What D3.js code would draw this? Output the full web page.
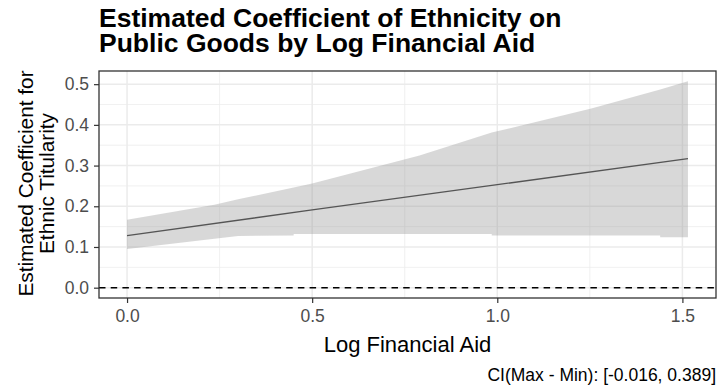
<!DOCTYPE html>
<html>
<head>
<meta charset="utf-8">
<script src="https://cdn.jsdelivr.net/npm/d3@7"></script>
<style>
  html, body { margin: 0; padding: 0; background: #fff; }
  svg { display: block; font-family: "Liberation Sans", Arial, sans-serif; }
</style>
</head>
<body>
<svg id="chart" width="720" height="388"></svg>
<script>
// Marginal effect of ethnicity across log financial aid, with its confidence band
const aidX   = [0, 0.5, 1.0, 1.515];
const effect = [0.128, 0.191, 0.253, 0.317];

// Confidence band (repeated x values mark the steps in the lower bound)
const bandX     = [0,     0.236, 0.30,  0.45,  0.45,  0.50,  0.79,  0.985, 0.985, 1.254, 1.44,  1.44,  1.515];
const bandLower = [0.095, 0.120, 0.127, 0.128, 0.132, 0.132, 0.132, 0.132, 0.128, 0.128, 0.128, 0.124, 0.124];
const bandUpper = [0.167, 0.204, 0.217, 0.246, 0.246, 0.256, 0.325, 0.381, 0.381, 0.440, 0.487, 0.487, 0.507];

const xTicks = [0, 0.5, 1.0, 1.5];
const xMinor = [0.25, 0.75, 1.25];
const yTicks = [0, 0.1, 0.2, 0.3, 0.4, 0.5];
const yMinor = [0.05, 0.15, 0.25, 0.35, 0.45];

const titleLines = ["Estimated Coefficient of Ethnicity on", "Public Goods by Log Financial Aid"];
const yTitleLines = ["Estimated Coefficient for", "Ethnic Titularity"];
const xTitle = "Log Financial Aid";
const caption = "CI(Max - Min): [-0.016, 0.389]";

const svg = d3.select("#chart");
const panel = { left: 99, right: 716, top: 71, bottom: 298 };

// Domains padded by 5% on each side of the data range
const xRange = [0, 1.515], yRange = [0, 0.507];
const xPad = (xRange[1] - xRange[0]) * 0.05, yPad = (yRange[1] - yRange[0]) * 0.05;
const x = d3.scaleLinear().domain([xRange[0] - xPad, xRange[1] + xPad]).range([panel.left, panel.right]);
const y = d3.scaleLinear().domain([yRange[0] - yPad, yRange[1] + yPad]).range([panel.bottom, panel.top]);

const grid = svg.append("g");
grid.selectAll("line.ymin").data(yMinor).join("line")
  .attr("x1", panel.left).attr("x2", panel.right)
  .attr("y1", d => y(d)).attr("y2", d => y(d))
  .attr("stroke", "#ececec").attr("stroke-width", 0.8);
grid.selectAll("line.xmin").data(xMinor).join("line")
  .attr("y1", panel.top).attr("y2", panel.bottom)
  .attr("x1", d => x(d)).attr("x2", d => x(d))
  .attr("stroke", "#ececec").attr("stroke-width", 0.8);
grid.selectAll("line.ymaj").data(yTicks).join("line")
  .attr("x1", panel.left).attr("x2", panel.right)
  .attr("y1", d => y(d)).attr("y2", d => y(d))
  .attr("stroke", "#ebebeb").attr("stroke-width", 1.5);
grid.selectAll("line.xmaj").data(xTicks).join("line")
  .attr("y1", panel.top).attr("y2", panel.bottom)
  .attr("x1", d => x(d)).attr("x2", d => x(d))
  .attr("stroke", "#ebebeb").attr("stroke-width", 1.5);

// Confidence band
const band = bandX.map((v, i) => ({ x: v, lo: bandLower[i], hi: bandUpper[i] }));
svg.append("path")
  .datum(band)
  .attr("d", d3.area().x(d => x(d.x)).y0(d => y(d.lo)).y1(d => y(d.hi)))
  .attr("fill", "#999999").attr("fill-opacity", 0.38);

// Point estimate
const est = aidX.map((v, i) => ({ x: v, y: effect[i] }));
svg.append("path")
  .datum(est)
  .attr("d", d3.line().x(d => x(d.x)).y(d => y(d.y)))
  .attr("fill", "none").attr("stroke", "#555555").attr("stroke-width", 1.3);

// Zero reference
svg.append("line")
  .attr("x1", panel.left).attr("x2", panel.right)
  .attr("y1", y(0)).attr("y2", y(0))
  .attr("stroke", "#000").attr("stroke-width", 1.4)
  .attr("stroke-dasharray", "6.5,5.2");

// Panel border
svg.append("rect")
  .attr("x", panel.left).attr("y", panel.top)
  .attr("width", panel.right - panel.left).attr("height", panel.bottom - panel.top)
  .attr("fill", "none").attr("stroke", "#333333").attr("stroke-width", 1.3);

// Axes
const fmt = d3.format(".1f");
const xAxis = svg.append("g").attr("transform", `translate(0,${panel.bottom})`)
  .call(d3.axisBottom(x).tickValues(xTicks).tickFormat(fmt).tickSize(5).tickPadding(7));
const yAxis = svg.append("g").attr("transform", `translate(${panel.left},0)`)
  .call(d3.axisLeft(y).tickValues(yTicks).tickFormat(fmt).tickSize(5).tickPadding(5));
[xAxis, yAxis].forEach(a => {
  a.select(".domain").remove();
  a.selectAll(".tick line").attr("stroke", "#333333").attr("stroke-width", 1.2);
  a.selectAll(".tick text").attr("fill", "#4d4d4d")
    .style("font-size", "17.5px").style("font-family", "'Liberation Sans', Arial, sans-serif");
});

// Titles
const title = svg.append("g").style("font-size", "26.5px").style("font-weight", "bold").attr("fill", "#000");
title.selectAll("text").data(titleLines).join("text")
  .attr("x", 99).attr("y", (d, i) => 27 + i * 25).text(d => d);

svg.append("text")
  .attr("x", (panel.left + panel.right) / 2).attr("y", 352)
  .attr("text-anchor", "middle").style("font-size", "22px").attr("fill", "#000")
  .text(xTitle);

const cy = (panel.top + panel.bottom) / 2;
svg.append("text")
  .attr("transform", `translate(33,${cy - 1}) rotate(-90)`)
  .attr("text-anchor", "middle").style("font-size", "20.8px").attr("fill", "#000")
  .selectAll("tspan").data(yTitleLines).join("tspan")
  .attr("x", 0).attr("dy", (d, i) => i ? 20.5 : 0).text(d => d);

svg.append("text")
  .attr("x", 716).attr("y", 381)
  .attr("text-anchor", "end").style("font-size", "17.5px").attr("fill", "#000")
  .text(caption);
</script>
</body>
</html>
